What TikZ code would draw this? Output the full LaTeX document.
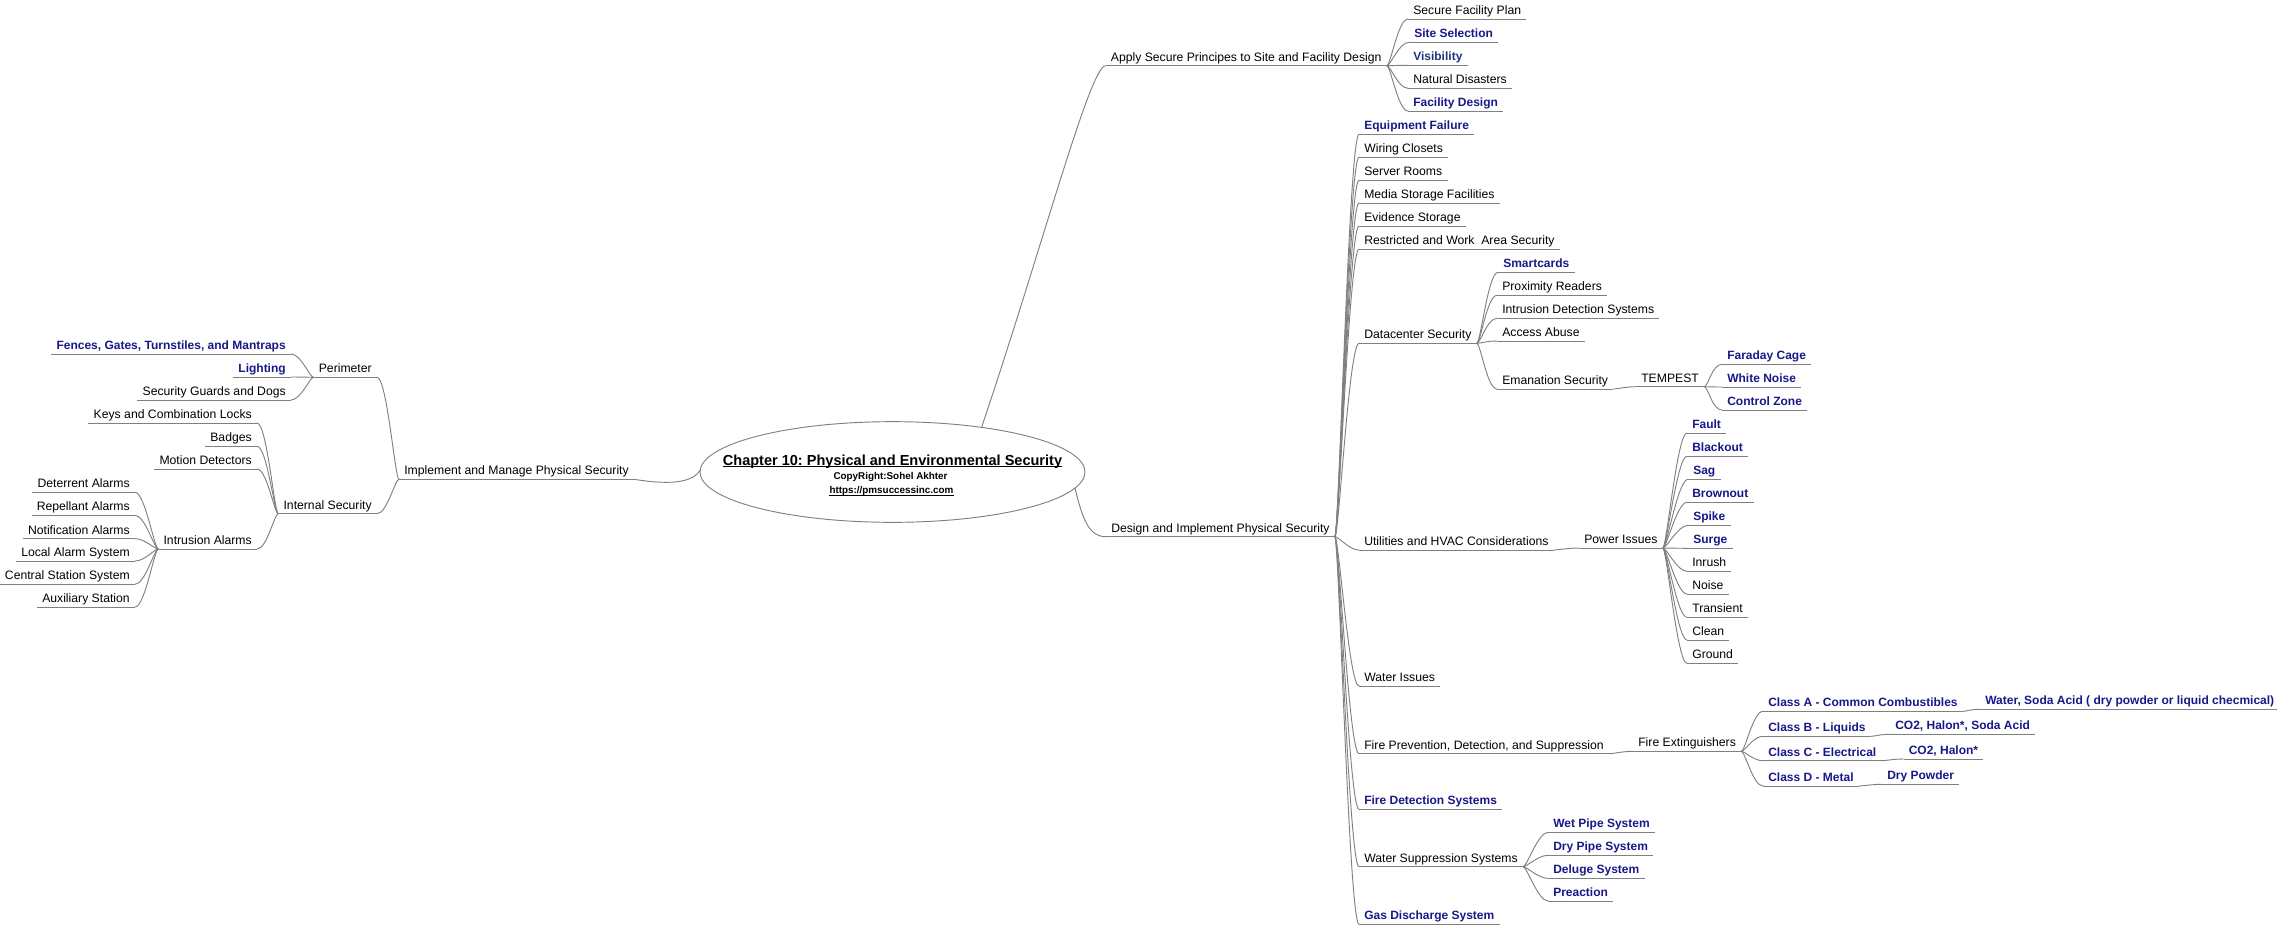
\documentclass[tikz,border=0pt]{standalone}
\usepackage{fontspec}
\setmainfont{Liberation Sans}
\usetikzlibrary{shapes.geometric,calc}
\definecolor{navyb}{RGB}{24,24,136}
\definecolor{visb}{RGB}{30,55,120}
\definecolor{lgray}{RGB}{128,128,128}
\newcommand\connR[2]{\draw[conn] (#1.south east) .. controls +(4,0) and +(-10,0) .. (#2.south west);}
\newcommand\connL[2]{\draw[conn] (#1.south west) .. controls +(-4,0) and +(10,0) .. (#2.south east);}
\frenchspacing
\begin{document}
\begin{tikzpicture}[x=0.75pt,y=-0.75pt,
  txt/.style={font=\fontsize{9.15}{11}\selectfont, inner xsep=3.75pt, inner ysep=1.2pt, text height=6.6pt, text depth=1.9pt},
  R/.style={txt, anchor=south west},
  L/.style={txt, anchor=south east},
  hl/.style={font=\fontsize{9}{11}\selectfont\bfseries, text=navyb},
  ul/.style={draw=lgray, line width=0.7pt},
  conn/.style={draw=lgray, line width=0.7pt},
]
\useasboundingbox (0,0) rectangle (2277,925);

% ---------- central ellipse ----------
\node[ellipse, draw=lgray, line width=0.7pt, minimum width=288.75pt, minimum height=75.5pt, inner sep=0pt] (E) at (892.5,472) {};
\node[anchor=base, inner sep=0pt, font=\fontsize{10.9}{12}\selectfont\bfseries] (title) at (892.5,465) {Chapter 10: Physical and Environmental Security};
\draw[line width=0.75pt] ($(title.base west)+(0,1.8)$) -- ($(title.base east)+(0,1.8)$);
\node[anchor=base, inner sep=0pt, font=\fontsize{7.4}{9}\selectfont\bfseries] (copy) at (890.5,479.6) {CopyRight:Sohel Akhter};
\node[anchor=base, inner sep=0pt, font=\fontsize{7.4}{9}\selectfont\bfseries] (url) at (891.5,493.6) {https://pmsuccessinc.com};
\draw[line width=0.7pt] ($(url.base west)+(0,1.6)$) -- ($(url.base east)+(0,1.6)$);
\coordinate (eT) at (981.7,427);
\coordinate (eR) at (1075,488);
\coordinate (eL) at (700.5,470);

% ---------- left side ----------
\node[L] (impl) at (634,479.3) {Implement and Manage Physical Security};
\node[L] (peri) at (377,377.3) {Perimeter};
\node[L,hl] (fence) at (291,354) {Fences, Gates, Turnstiles, and Mantraps};
\node[L,hl] (light) at (291,377) {Lighting};
\node[L] (guard) at (291,400) {Security Guards and Dogs};
\node[L] (intsec) at (377,513.7) {Internal Security};
\node[L] (keys) at (257,423) {Keys and Combination Locks};
\node[L] (badge) at (257,446.3) {Badges};
\node[L] (motion) at (257,469) {Motion Detectors};
\node[L] (intal) at (257,549) {Intrusion Alarms};
\node[L] (deter) at (135,492.3) {Deterrent Alarms};
\node[L] (repel) at (135,515.3) {Repellant Alarms};
\node[L] (notif) at (135,538.7) {Notification Alarms};
\node[L] (local) at (135,561) {Local Alarm System};
\node[L] (central) at (135,584.3) {Central Station System};
\node[L] (aux) at (135,607) {Auxiliary Station};

% ---------- right side: Apply ----------
\node[R] (apply) at (1105.6,65.7) {Apply Secure Principes to Site and Facility Design};
\node[R] (sfp) at (1408,19) {Secure Facility Plan};
\node[R,hl] (site) at (1409,42.3) {Site Selection};
\node[R,hl,text=visb] (vis) at (1408,65.3) {Visibility};
\node[R] (nat) at (1408,88.3) {Natural Disasters};
\node[R,hl] (fdes) at (1408,111) {Facility Design};

% ---------- right side: Design ----------
\node[R] (design) at (1106,536.7) {Design and Implement Physical Security};
\node[R,hl] (equip) at (1359,134.3) {Equipment Failure};
\node[R] (wiring) at (1359,157) {Wiring Closets};
\node[R] (server) at (1359,180.3) {Server Rooms};
\node[R] (media) at (1359,203) {Media Storage Facilities};
\node[R] (evid) at (1359,226) {Evidence Storage};
\node[R] (restr) at (1359,249) {Restricted and Work~ Area Security};
\node[R] (dcs) at (1359,343.3) {Datacenter Security};
\node[R,hl] (smart) at (1498,272.3) {Smartcards};
\node[R] (prox) at (1497,295.3) {Proximity Readers};
\node[R] (ids) at (1497,318.3) {Intrusion Detection Systems};
\node[R] (abuse) at (1497,341) {Access Abuse};
\node[R] (eman) at (1497,389) {Emanation Security};
\node[R] (tempest) at (1636,386.7) {TEMPEST};
\node[R,hl] (faraday) at (1722,364.3) {Faraday Cage};
\node[R,hl] (wnoise) at (1722,387) {White Noise};
\node[R,hl] (czone) at (1722,410) {Control Zone};
\node[R] (util) at (1359,550) {Utilities and HVAC Considerations};
\node[R] (power) at (1579,548) {Power Issues};
\node[R,hl] (fault) at (1687,433) {Fault};
\node[R,hl] (blackout) at (1687,456.3) {Blackout};
\node[R,hl] (sag) at (1688,479.3) {Sag};
\node[R,hl] (brown) at (1687,502.3) {Brownout};
\node[R,hl] (spike) at (1688,525.3) {Spike};
\node[R,hl] (surge) at (1688,548.3) {Surge};
\node[R] (inrush) at (1687,571.3) {Inrush};
\node[R] (noise) at (1687,594) {Noise};
\node[R] (trans) at (1687,617.3) {Transient};
\node[R] (clean) at (1687,640) {Clean};
\node[R] (ground) at (1687,663.3) {Ground};
\node[R] (water) at (1359,686) {Water Issues};
\node[R] (fire) at (1359,753.7) {Fire Prevention, Detection, and Suppression};
\node[R] (fext) at (1633,751.3) {Fire Extinguishers};
\node[R,hl] (ca) at (1763,711.3) {Class A - Common Combustibles};
\node[R,hl] (cab) at (1980,709.3) {Water, Soda Acid ( dry powder or liquid checmical)};
\node[R,hl] (cb) at (1763,736.3) {Class B - Liquids};
\node[R,hl] (cbb) at (1890,734.3) {CO2, Halon*, Soda Acid};
\node[R,hl] (cc) at (1763,760.7) {Class C - Electrical};
\node[R,hl] (ccb) at (1903.5,759) {CO2, Halon*};
\node[R,hl] (cd) at (1763,786) {Class D - Metal};
\node[R,hl] (cdb) at (1882,784.3) {Dry Powder};
\node[R,hl] (fds) at (1359,809.3) {Fire Detection Systems};
\node[R] (wss) at (1359,866.7) {Water Suppression Systems};
\node[R,hl] (wet) at (1548,832.3) {Wet Pipe System};
\node[R,hl] (dry) at (1548,855.3) {Dry Pipe System};
\node[R,hl] (deluge) at (1548,878.3) {Deluge System};
\node[R,hl] (preact) at (1548,901) {Preaction};
\node[R,hl] (gas) at (1359,924.3) {Gas Discharge System};

% ---------- underlines ----------
\foreach \n in {impl,peri,fence,light,guard,intsec,keys,badge,motion,intal,deter,repel,notif,local,central,aux,apply,sfp,site,vis,nat,fdes,design,equip,wiring,server,media,evid,restr,dcs,smart,prox,ids,abuse,eman,tempest,faraday,wnoise,czone,util,power,fault,blackout,sag,brown,spike,surge,inrush,noise,trans,clean,ground,water,fire,fext,ca,cab,cb,cbb,cc,ccb,cd,cdb,fds,wss,wet,dry,deluge,preact,gas}{
  \draw[ul] (\n.south west) -- (\n.south east);
}

% ---------- connectors from ellipse ----------
\draw[conn] (eT) .. controls (1043,245) and (1090,66) .. (apply.south west);
\draw[conn] (eR) .. controls (1083,522) and (1090,536.7) .. (design.south west);
\draw[conn] (impl.south east) .. controls (676,486) and (693,481) .. (eL);

% ---------- left connectors ----------
\connL{impl}{peri}
\connL{impl}{intsec}
\foreach \c in {fence,light,guard}{\connL{peri}{\c}}
\foreach \c in {keys,badge,motion,intal}{\connL{intsec}{\c}}
\foreach \c in {deter,repel,notif,local,central,aux}{\connL{intal}{\c}}

% ---------- right connectors ----------
\foreach \c in {sfp,site,vis,nat,fdes}{\connR{apply}{\c}}
\foreach \c in {equip,wiring,server,media,evid,restr,dcs,util,water,fire,fds,wss,gas}{\connR{design}{\c}}
\foreach \c in {smart,prox,ids,abuse,eman}{\connR{dcs}{\c}}
\connR{eman}{tempest}
\foreach \c in {faraday,wnoise,czone}{\connR{tempest}{\c}}
\connR{util}{power}
\foreach \c in {fault,blackout,sag,brown,spike,surge,inrush,noise,trans,clean,ground}{\connR{power}{\c}}
\connR{fire}{fext}
\foreach \c in {ca,cb,cc,cd}{\connR{fext}{\c}}
\connR{ca}{cab}
\connR{cb}{cbb}
\connR{cc}{ccb}
\connR{cd}{cdb}
\foreach \c in {wet,dry,deluge,preact}{\connR{wss}{\c}}
\end{tikzpicture}
\end{document}
